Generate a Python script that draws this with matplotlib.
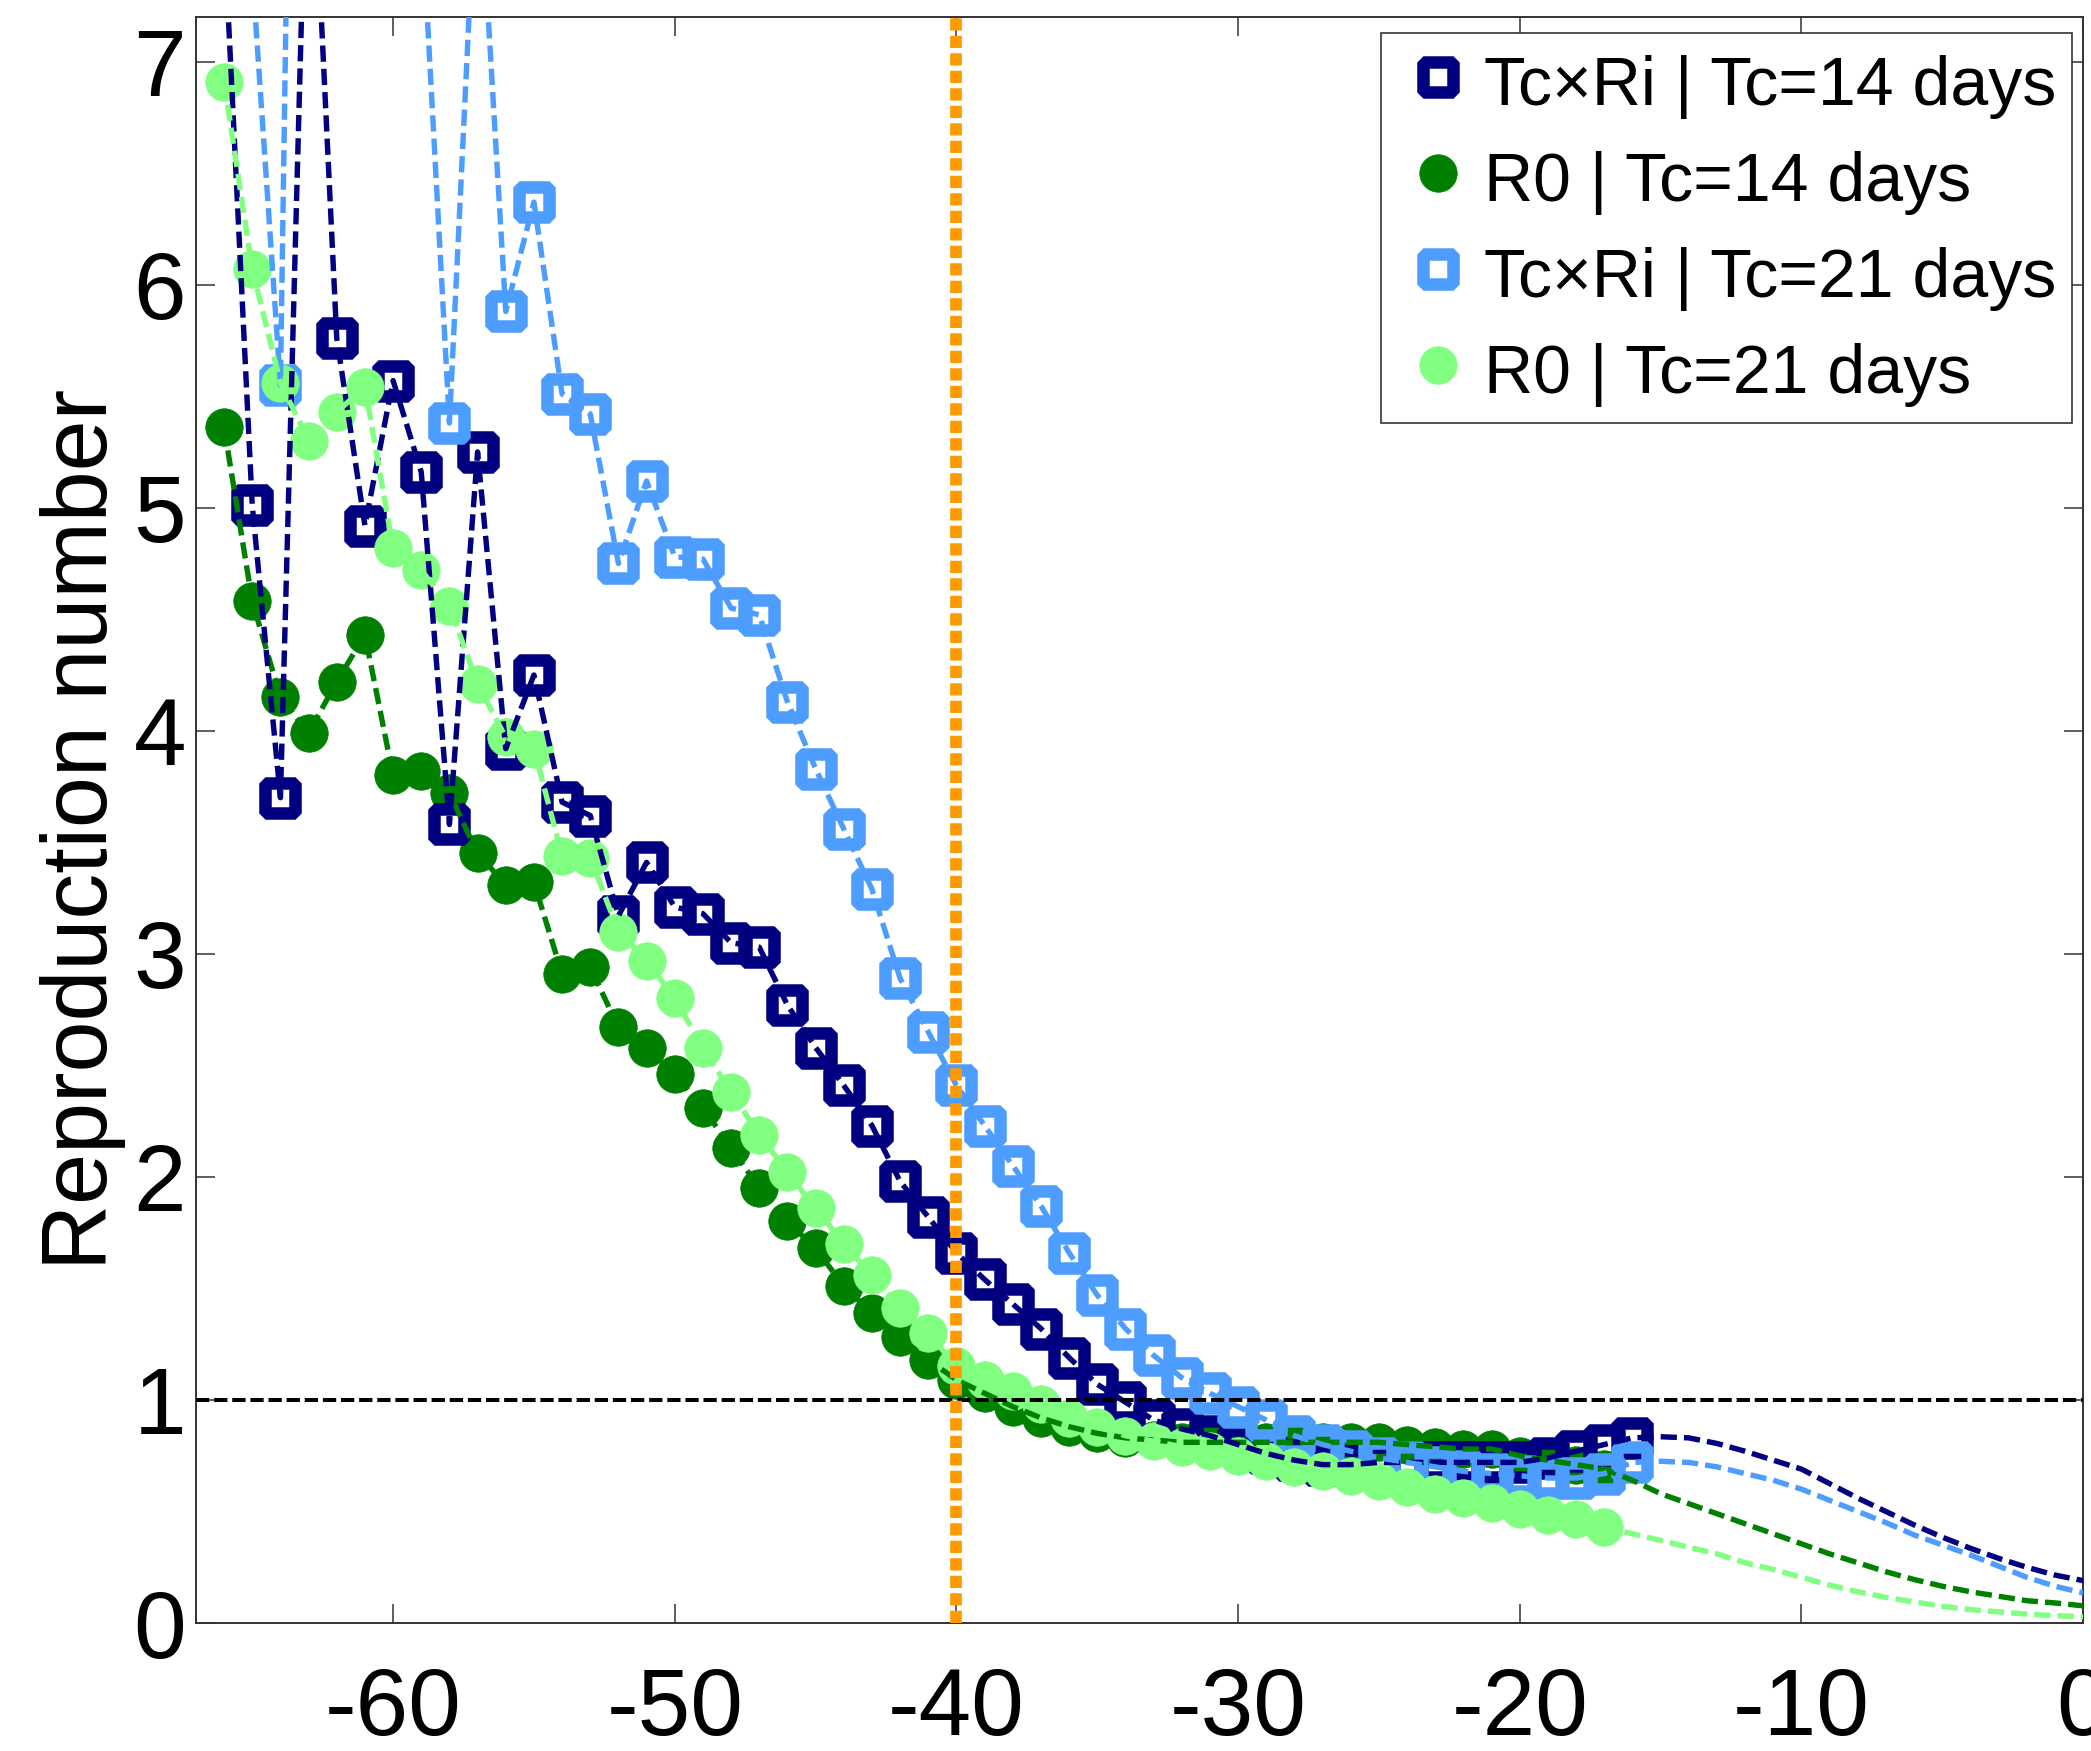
import numpy as np
import matplotlib
matplotlib.use("Agg")
import matplotlib.pyplot as plt
from matplotlib.markers import MarkerStyle
from matplotlib.lines import Line2D

plt.rcParams['font.family'] = ['Liberation Sans', 'DejaVu Sans']

# ---------------- data ----------------
days_navy = list(range(-66, -15))          # -66 .. -16
navy_vals = [7.59, 5.01, 3.70, 8.38, 5.76, 4.92, 5.57, 5.16, 3.58, 5.25,
             3.92, 4.25, 3.68, 3.62, 3.17, 3.41, 3.21, 3.18, 3.05, 3.03,
             2.77, 2.58, 2.41, 2.23, 1.98, 1.82, 1.66, 1.54, 1.43, 1.32,
             1.19, 1.07, 0.99, 0.91, 0.87, 0.84, 0.80, 0.76, 0.73, 0.71,
             0.71, 0.72, 0.72, 0.72, 0.72, 0.72, 0.72, 0.74, 0.77, 0.80,
             0.83]
days_navy_tail = list(range(-15, 1))
navy_tail = [0.835, 0.83, 0.805, 0.77, 0.73, 0.69, 0.625, 0.56, 0.50, 0.44,
             0.385, 0.335, 0.29, 0.25, 0.215, 0.19]

days_dgreen = list(range(-66, -16))        # -66 .. -17
dgreen_vals = [5.36, 4.58, 4.15, 3.99, 4.22, 4.43, 3.80, 3.82, 3.72, 3.45,
               3.31, 3.32, 2.91, 2.94, 2.67, 2.58, 2.46, 2.31, 2.13, 1.95,
               1.80, 1.68, 1.51, 1.39, 1.28, 1.18, 1.09, 1.03, 0.97, 0.92,
               0.88, 0.85, 0.83, 0.82, 0.81, 0.81, 0.81, 0.81, 0.81, 0.81,
               0.81, 0.81, 0.80, 0.79, 0.78, 0.78, 0.75, 0.73, 0.71, 0.69]
days_dgreen_tail = list(range(-16, 1))
dgreen_tail = [0.64, 0.58, 0.535, 0.49, 0.445, 0.40, 0.355, 0.31, 0.27, 0.23,
               0.195, 0.165, 0.14, 0.12, 0.10, 0.09, 0.077]

days_lblue = list(range(-66, -15))         # -66 .. -16
lblue_vals = [8.6, 7.4, 5.55, 14.0, 11.0, 9.5, 9.0, 7.7, 5.38, 8.0,
              5.88, 6.37, 5.51, 5.42, 4.75, 5.12, 4.78, 4.77, 4.55, 4.52,
              4.13, 3.83, 3.56, 3.29, 2.89, 2.65, 2.41, 2.23, 2.05, 1.87,
              1.66, 1.47, 1.32, 1.20, 1.10, 1.03, 0.97, 0.91, 0.84, 0.80,
              0.77, 0.74, 0.72, 0.70, 0.68, 0.67, 0.66, 0.65, 0.65, 0.67,
              0.72]
days_lblue_tail = list(range(-15, 1))
lblue_tail = [0.725, 0.72, 0.70, 0.67, 0.64, 0.60, 0.55, 0.50, 0.45, 0.395,
              0.35, 0.305, 0.255, 0.205, 0.165, 0.135]

days_lgreen = list(range(-66, -16))        # -66 .. -17
lgreen_vals = [6.91, 6.07, 5.56, 5.30, 5.43, 5.54, 4.82, 4.72, 4.56, 4.21,
               3.97, 3.92, 3.44, 3.43, 3.10, 2.97, 2.80, 2.58, 2.38, 2.19,
               2.02, 1.86, 1.70, 1.56, 1.41, 1.30, 1.15, 1.09, 1.04, 0.98,
               0.92, 0.88, 0.84, 0.815, 0.79, 0.77, 0.75, 0.725, 0.70, 0.68,
               0.66, 0.635, 0.61, 0.58, 0.56, 0.54, 0.51, 0.485, 0.465, 0.43]
days_lgreen_tail = list(range(-16, 1))
lgreen_tail = [0.40, 0.37, 0.34, 0.31, 0.27, 0.24, 0.205, 0.17, 0.14, 0.115,
               0.095, 0.075, 0.06, 0.05, 0.04, 0.033, 0.028]

labels = ["Tc×Ri | Tc=14 days", "R0 | Tc=14 days",
          "Tc×Ri | Tc=21 days", "R0 | Tc=21 days"]
xticks = [-60, -50, -40, -30, -20, -10, 0]
yticks = [0, 1, 2, 3, 4, 5, 6, 7]
threshold = 1
lockdown_day = -40

# ---------------- style ----------------
C_NAVY = '#000080'
C_DGREEN = '#008000'
C_LBLUE = '#4D9DFF'
C_LGREEN = '#80FF80'
C_ORANGE = '#FF9900'

fig = plt.figure(figsize=(20.91, 17.51), dpi=100)
ax = fig.add_axes([0.0937, 0.0731, 0.9025, 0.9172])

sq = MarkerStyle('s', joinstyle='bevel')
sq_kw = dict(linestyle='none', marker=sq, markersize=22, markeredgewidth=9,
             markerfacecolor='none')
ci_kw = dict(linestyle='none', marker='o', markersize=27, markeredgewidth=0.5)
dash_kw = dict(linewidth=3.9, linestyle=(0, (3.0, 1.3)))

# markers (z-order: dark green < navy < light blue < light green)
ax.plot(days_dgreen, dgreen_vals, color=C_DGREEN, zorder=2.1, **ci_kw)
ax.plot(days_navy, navy_vals, color=C_NAVY, zorder=2.2, **sq_kw)
ax.plot(days_lblue, lblue_vals, color=C_LBLUE, zorder=2.3, **sq_kw)
ax.plot(days_lgreen, lgreen_vals, color=C_LGREEN, zorder=2.4, **ci_kw)

# dashed curves through data and extension to day 0
ax.plot(days_dgreen + days_dgreen_tail, dgreen_vals + dgreen_tail,
        color=C_DGREEN, zorder=3.1, **dash_kw)
ax.plot(days_navy + days_navy_tail, navy_vals + navy_tail,
        color=C_NAVY, zorder=3.2, **dash_kw)
ax.plot(days_lblue + days_lblue_tail, lblue_vals + lblue_tail,
        color=C_LBLUE, zorder=3.3, **dash_kw)
ax.plot(days_lgreen + days_lgreen_tail, lgreen_vals + lgreen_tail,
        color=C_LGREEN, zorder=3.4, **dash_kw)

ax.axhline(threshold, color='black', linewidth=2.9,
           linestyle=(0, (3.3, 1.2)), zorder=4)
ax.axvline(lockdown_day, color=C_ORANGE, linewidth=8.4,
           linestyle=(0, (1.05, 0.45)), zorder=4.1)

ax.set_xlim(-67, 0)
ax.set_ylim(0, 7.2)
ax.set_xticks(xticks)
ax.set_yticks(yticks)
ax.set_xticklabels([str(v) for v in xticks])
ax.set_yticklabels([str(v) for v in yticks])

for s in ax.spines.values():
    s.set_linewidth(1.4)
    s.set_color('#333333')
ax.tick_params(axis='both', which='both', direction='in', length=13.7,
               width=1.1, top=True, right=True, labelsize=68, color='#333333')
ax.tick_params(axis='x', pad=31)
ax.tick_params(axis='y', pad=7)

ax.set_ylabel("Reproduction number", fontsize=66)
ax.yaxis.set_label_coords(-0.0368, 0.494)

handles = [
    Line2D([], [], color=C_NAVY, **sq_kw),
    Line2D([], [], color=C_DGREEN, **ci_kw),
    Line2D([], [], color=C_LBLUE, **sq_kw),
    Line2D([], [], color=C_LGREEN, **ci_kw),
]
leg = ax.legend(handles, labels, loc='upper right',
                bbox_to_anchor=(2072 / 2091, 1 - 33 / 1751),
                bbox_transform=fig.transFigure, borderaxespad=0,
                fontsize=49, fancybox=False, framealpha=1,
                edgecolor='#333333', handlelength=1.2, handletextpad=0.08,
                handleheight=1.15, borderpad=0.23, labelspacing=0.37,
                markerscale=1)
leg.get_frame().set_linewidth(1.2)
leg.set_zorder(6)

fig.savefig("out.png", dpi=100)
